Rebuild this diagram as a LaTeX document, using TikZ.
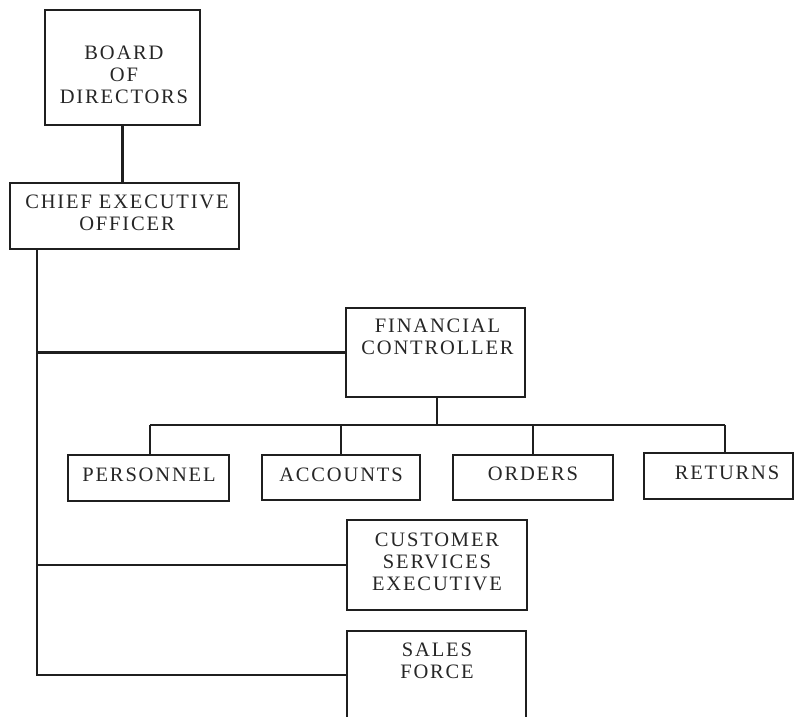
\documentclass[tikz,border=0pt]{standalone}
\usepackage{fontspec}
\setmainfont{Liberation Serif}[LetterSpace=9]
\begin{document}
\begin{tikzpicture}[x=1pt,y=-1pt]
\tikzset{
  box/.style={draw=black!88, line width=2.2pt, inner sep=0pt},
  lbl/.style={font=\fontsize{20.5}{22}\selectfont, align=center, text=black!85, inner sep=0pt},
  conn/.style={line width=2.2pt, draw=black!88}
}
\useasboundingbox (0,0) rectangle (795,716);
\clip (0,0) rectangle (795,716);
% boxes
\node[box, minimum width=155, minimum height=115] (board) at (122.5,67.5) {};
\node[box, minimum width=229, minimum height=66] (ceo) at (124.5,216) {};
\node[box, minimum width=179, minimum height=89] (fc) at (435.5,352.5) {};
\node[box, minimum width=161, minimum height=46] (pers) at (148.5,478) {};
\node[box, minimum width=158, minimum height=45] (acc) at (341,477.5) {};
\node[box, minimum width=160, minimum height=45] (ord) at (533,477.5) {};
\node[box, minimum width=149, minimum height=46] (ret) at (718.5,476) {};
\node[box, minimum width=180, minimum height=90] (cust) at (437,565) {};
\node[box, minimum width=179, minimum height=130] (sales) at (436.5,696) {};
% texts
\node[lbl] (tboard) at (124,75) {BOARD\\OF\\DIRECTORS};
\node[lbl] (tceo) at (127,212.5) {CHIEF EXECUTIVE\\OFFICER};
\node[lbl] (tfc) at (437.5,337) {FINANCIAL\\CONTROLLER};
\node[lbl] (tpers) at (149,475) {PERSONNEL};
\node[lbl] (tacc) at (341,475) {ACCOUNTS};
\node[lbl] (tord) at (533,474) {ORDERS};
\node[lbl] (tret) at (727,473) {RETURNS};
\node[lbl] (tcust) at (437,561.5) {CUSTOMER\\SERVICES\\EXECUTIVE};
\node[lbl] (tsales) at (437,660.5) {SALES\\FORCE};
% connectors
\draw[conn] (board.south) -- (board.south |- ceo.north);
\coordinate (s0) at (37,249);
\coordinate (s3) at (37,675);
\draw[conn] (s0) -- (s3) -- (s3 -| sales.west);
\draw[conn] (fc.west) -- (fc.west -| s0);
\draw[conn] (cust.west) -- (cust.west -| s0);
\coordinate (bus) at (437,425);
\draw[conn] (fc.south -| bus) -- (bus);
\coordinate (d1) at (150,425);
\coordinate (d2) at (341,425);
\coordinate (d3) at (533,425);
\coordinate (d4) at (725,425);
\draw[conn] (d1) -- (d4);
\draw[conn] (d1) -- (d1 |- pers.north);
\draw[conn] (d2) -- (d2 |- acc.north);
\draw[conn] (d3) -- (d3 |- ord.north);
\draw[conn] (d4) -- (d4 |- ret.north);
\end{tikzpicture}
\end{document}
